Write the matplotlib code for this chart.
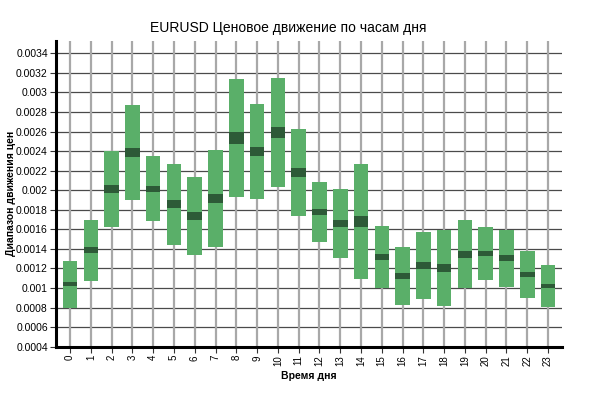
import numpy as np
import matplotlib
matplotlib.use('Agg')
import matplotlib.pyplot as plt

plt.rcParams['font.family'] = ['Liberation Sans', 'DejaVu Sans']

hours = list(range(24))
# full range of hourly price movement (low / high)
range_low = [0.00080, 0.001075, 0.001627, 0.001903, 0.001688, 0.001443, 0.001341, 0.001423,
             0.001934, 0.001913, 0.002036, 0.001739, 0.001474, 0.00131, 0.001095, 0.001003,
             0.000829, 0.000891, 0.000819, 0.001003, 0.001085, 0.001014, 0.000901, 0.000803]
range_high = [0.00128, 0.00170, 0.00240, 0.002871, 0.00235, 0.002268, 0.002135, 0.002411,
              0.003137, 0.002882, 0.003147, 0.002626, 0.002084, 0.002009, 0.002268, 0.001634,
              0.001419, 0.001573, 0.001596, 0.00170, 0.001624, 0.001596, 0.001379, 0.001235]
# dark band (central value)
band_low = [0.001021, 0.001361, 0.001975, 0.00234, 0.001982, 0.001818, 0.001696, 0.001872,
            0.002473, 0.00235, 0.002534, 0.002138, 0.001747, 0.001627, 0.001627, 0.00129,
            0.001095, 0.001198, 0.001167, 0.001307, 0.001327, 0.001279, 0.001113, 0.00100]
band_high = [0.001065, 0.001423, 0.002053, 0.002432, 0.002043, 0.0019, 0.00178, 0.001961,
             0.002595, 0.002442, 0.002646, 0.002227, 0.001808, 0.001696, 0.001736, 0.001351,
             0.001157, 0.001266, 0.001246, 0.001382, 0.001382, 0.001338, 0.001167, 0.001041]

ytick_vals = [round(0.0004 + 0.0002 * i, 4) for i in range(16)]

fig = plt.figure(figsize=(5.97, 3.94), dpi=100)
ax = fig.add_axes([0.094, 0.12, 0.847, 0.777])

# grid: dark horizontal lines, grey vertical lines at each hour
for v in ytick_vals:
    ax.axhline(v, color='#4a4a4a', linewidth=0.9, zorder=0)
for h in hours:
    ax.axvline(h, color='#a8a8a8', linewidth=1.6, zorder=0)

low = np.array(range_low)
high = np.array(range_high)
ax.bar(hours, high - low, bottom=low, width=0.7, color='#5aaf69', zorder=2)
bl = np.array(band_low)
bh = np.array(band_high)
ax.bar(hours, bh - bl, bottom=bl, width=0.7, color='#2d5a37', zorder=3)

ax.set_xlim(-0.67, 23.66)
ax.set_ylim(0.0004, 0.00353)
ax.set_xticks(hours)
ax.set_xticklabels([str(h) for h in hours], rotation=90, fontsize=7)
ax.set_yticks(ytick_vals)
ax.set_yticklabels([f'{v:g}' for v in ytick_vals], fontsize=7.5)
ax.tick_params(axis='both', length=4, width=0.8, color='#333333', pad=2)

for side in ['top', 'right']:
    ax.spines[side].set_visible(False)
ax.spines['left'].set_linewidth(2.2)
ax.spines['bottom'].set_linewidth(2.2)

fig.text(0.483, 0.919, 'EURUSD Ценовое движение по часам дня', fontsize=10,
         ha='center', va='baseline')
ax.set_xlabel('Время дня', fontsize=7.5, fontweight='bold', labelpad=4)
ax.set_ylabel('Диапазон движения цен', fontsize=7.5, fontweight='bold', labelpad=0)

fig.savefig('out.png', dpi=100)
